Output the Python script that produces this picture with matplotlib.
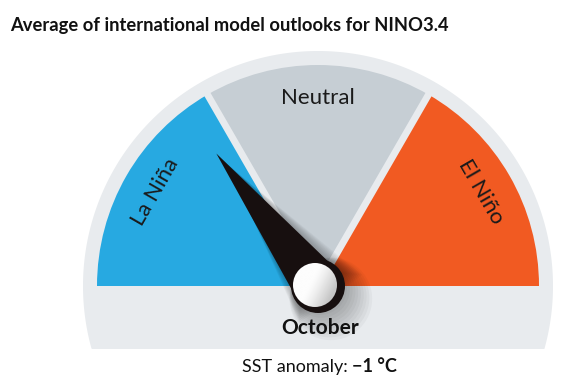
import numpy as np
import matplotlib
matplotlib.use("Agg")
import matplotlib.pyplot as plt
from matplotlib.patches import Polygon, Wedge, Circle

# ---- data ----
title = "Average of international model outlooks for NINO3.4"
categories = ["La Niña", "Neutral", "El Niño"]
category_colors = ["#27A9E1", "#C6CED4", "#F15A22"]
thresholds = [-0.8, 0.8]          # °C boundaries between phases
sst_anomaly = -1                  # °C
month = "October"
deg_per_unit = 37.5               # gauge scale: degrees of arc per °C

plt.rcParams['font.family'] = ['Lato', 'DejaVu Sans']

W, H = 584, 389
fig = plt.figure(figsize=(W / 100, H / 100), dpi=100)
ax = fig.add_axes([0, 0, 1, 1])
ax.set_xlim(0, W)
ax.set_ylim(0, H)
ax.axis('off')

cx, cy = 318, H - 286
R_out = 235
R_in = 221
y_cut = H - 349
bg_grey = "#E8EBEE"

# outer grey dial (circle clipped at bottom)
t = np.linspace(0, 2 * np.pi, 720)
xs = cx + R_out * np.cos(t)
ys = cy + R_out * np.sin(t)
ys = np.maximum(ys, y_cut)
ax.add_patch(Polygon(np.column_stack([xs, ys]), closed=True, fc=bg_grey, ec='none', zorder=1))

def val2ang(v):
    return 90 - v * deg_per_unit

bounds = [180, val2ang(thresholds[0]), val2ang(thresholds[1]), 0]
for i, (name, col) in enumerate(zip(categories, category_colors)):
    a1, a0 = bounds[i], bounds[i + 1]
    ax.add_patch(Wedge((cx, cy), R_in, a0, a1, fc=col, ec='none', zorder=2))

# separating gaps
for a in bounds[1:3]:
    r = np.radians(a)
    ax.plot([cx, cx + (R_in + 3) * np.cos(r)], [cy, cy + (R_in + 3) * np.sin(r)],
            color=bg_grey, lw=5, solid_capstyle='butt', zorder=3)

# category labels
label_r = 188
label_angles = [(bounds[i] + bounds[i + 1]) / 2 for i in range(3)]
for name, a in zip(categories, label_angles):
    r = np.radians(a)
    ax.text(cx + label_r * np.cos(r), cy + label_r * np.sin(r), name,
            rotation=a - 90, ha='center', va='center', fontsize=16,
            color='#1a1a1a', rotation_mode='anchor', zorder=4)

# needle
ang = np.radians(val2ang(sst_anomaly))
L = 167
base_w = 25
ux, uy = np.cos(ang), np.sin(ang)
px, py = -uy, ux
tip = (cx + L * ux, cy + L * uy)
b1 = (cx + base_w * px, cy + base_w * py)
b2 = (cx - base_w * px, cy - base_w * py)

# soft shadow
for k in range(10):
    off = 2 + k * 1.2
    grow = k * 1.6
    sh = [(tip[0] + off, tip[1] - off),
          (cx + (base_w + grow) * px + off, cy + (base_w + grow) * py - off),
          (cx - (base_w + grow) * px + off, cy - (base_w + grow) * py - off)]
    ax.add_patch(Polygon(sh, closed=True, fc='black', ec='none', alpha=0.03, zorder=5))
    ax.add_patch(Circle((cx + off, cy - off), 27 + grow, fc='black', ec='none', alpha=0.03, zorder=5))

ax.add_patch(Polygon([tip, b1, b2], closed=True, fc='#170F0F', ec='none', zorder=6))
ax.add_patch(Circle((cx, cy), 27, fc='#170F0F', ec='none', zorder=7))

# pivot with gradient
pr = 22
pcx, pcy = cx - 3, cy + 1
gx, gy = np.meshgrid(np.linspace(-1, 1, 100), np.linspace(-1, 1, 100))
d = np.clip((gx * 0.8 - gy * 0.4 + 0.2), -1, 1)
img = np.clip(0.99 - 0.22 * np.clip(d, 0, 1) ** 1.3, 0, 1)
im = ax.imshow(img, extent=[pcx - pr, pcx + pr, pcy - pr, pcy + pr], origin='lower',
               cmap='gray', vmin=0, vmax=1, zorder=8, interpolation='bilinear')
clipc = Circle((pcx, pcy), pr, transform=ax.transData)
im.set_clip_path(clipc)
ax.set_xlim(0, W)
ax.set_ylim(0, H)

# texts
fig.text(10 / W, 1 - 25 / H, title, fontsize=13.2, fontweight='bold', ha='left', va='center', color='#111111')
ax.text(cx + 2, H - 328, month, fontsize=15, fontweight='bold', ha='center', va='center', color='#111111', zorder=9)
split_x = 352
ax.text(split_x, H - 367, "SST anomaly: ", fontsize=13, ha='right', va='center', color='#111111')
ax.text(split_x, H - 367, "\u22121 °C".replace("1", str(abs(sst_anomaly))), fontsize=13,
        fontweight='bold', ha='left', va='center', color='#111111')

fig.savefig("out.png", dpi=100, facecolor='white')
